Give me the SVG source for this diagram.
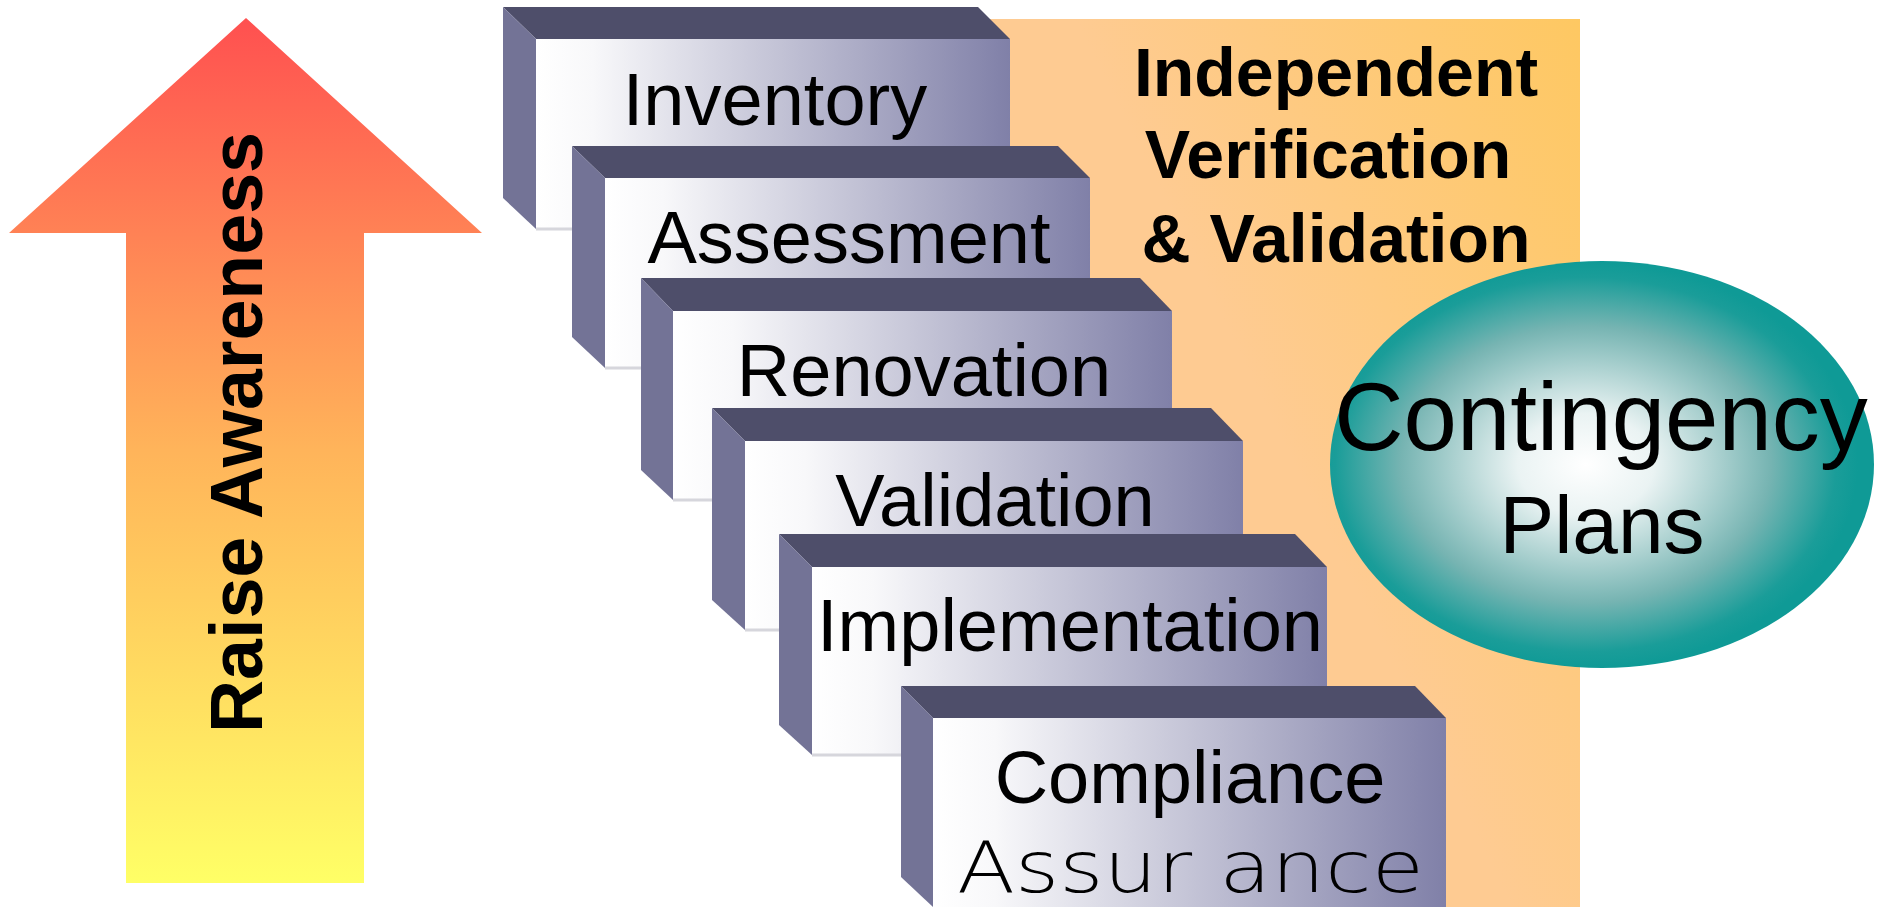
<svg xmlns="http://www.w3.org/2000/svg" width="1881" height="907" viewBox="0 0 1881 907">
  <defs>
    <linearGradient id="arrowGrad" gradientUnits="userSpaceOnUse" x1="0" y1="18" x2="0" y2="883">
      <stop offset="0" stop-color="#ff5050"/>
      <stop offset="0.5" stop-color="#ffb45a"/>
      <stop offset="1" stop-color="#ffff66"/>
    </linearGradient>
    <linearGradient id="orangeGrad" x1="1" y1="0" x2="0.45" y2="0.4">
      <stop offset="0" stop-color="#fec862"/>
      <stop offset="1" stop-color="#fecb92"/>
    </linearGradient>
    <linearGradient id="frontGrad" x1="0" y1="0" x2="1" y2="0">
      <stop offset="0" stop-color="#ffffff"/>
      <stop offset="0.12" stop-color="#f8f8fa"/>
      <stop offset="1" stop-color="#8080a8"/>
    </linearGradient>
    <radialGradient id="ovalGrad" cx="0.47" cy="0.5" r="0.5">
      <stop offset="0" stop-color="#ffffff"/>
      <stop offset="0.25" stop-color="#eaf3f3"/>
      <stop offset="0.68" stop-color="#76b4b2"/>
      <stop offset="0.92" stop-color="#1a9d99"/>
      <stop offset="1" stop-color="#0f9a96"/>
    </radialGradient>
    <style>
      .top { fill: #4e4e6a; }
      .side { fill: #737396; }
      .front { fill: url(#frontGrad); }
      .edge { stroke: #d6d6dc; stroke-width: 3; fill: none; }
      .lbl { font-family: "Liberation Sans", Arial, sans-serif; font-size: 74px; fill: #000; text-anchor: middle; }
      .bold { font-family: "Liberation Sans", Arial, sans-serif; font-weight: bold; fill: #000; text-anchor: middle; }
      .thin { font-family: "DejaVu Sans", sans-serif; font-weight: 200; font-size: 72px; fill: #000; }
    </style>
  </defs>

  <rect id="background" x="0" y="0" width="1881" height="907" fill="#ffffff"/>

  <g id="raise-awareness">
    <polygon points="246,18 482,233 364,233 364,883 126,883 126,233 9,233" fill="url(#arrowGrad)"/>
    <text class="bold" font-size="75" textLength="601" lengthAdjust="spacingAndGlyphs" transform="translate(262,432.5) rotate(-90)">Raise Awareness</text>
  </g>

  <g id="ivv">
    <rect x="980" y="19" width="600" height="888" fill="url(#orangeGrad)"/>
    <text class="bold" font-size="68" x="1336" y="96">Independent</text>
    <text class="bold" font-size="68" x="1328" y="178">Verification</text>
    <text class="bold" font-size="68" x="1336" y="262">&amp; Validation</text>
  </g>

  <g id="inventory">
    <polygon class="top" points="503,7 978,7 1010,39 536,39"/>
    <polygon class="side" points="503,7 536,39 536,229 503,198"/>
    <rect class="front" x="536" y="39" width="474" height="190"/>
    <line class="edge" x1="536" y1="229" x2="1010" y2="229"/>
    <text class="lbl" x="775" y="125">Inventory</text>
  </g>

  <g id="assessment">
    <polygon class="top" points="572,146 1058,146 1090,178 605,178"/>
    <polygon class="side" points="572,146 605,178 605,368 572,337"/>
    <rect class="front" x="605" y="178" width="485" height="190"/>
    <line class="edge" x1="605" y1="368" x2="1090" y2="368"/>
    <text class="lbl" x="849" y="263">Assessment</text>
  </g>

  <g id="renovation">
    <polygon class="top" points="641,278 1140,278 1172,311 673,311"/>
    <polygon class="side" points="641,278 673,311 673,500 641,470"/>
    <rect class="front" x="673" y="311" width="499" height="189"/>
    <line class="edge" x1="673" y1="500" x2="1172" y2="500"/>
    <text class="lbl" x="924" y="396">Renovation</text>
  </g>

  <g id="validation">
    <polygon class="top" points="712,408 1211,408 1243,441 745,441"/>
    <polygon class="side" points="712,408 745,441 745,630 712,600"/>
    <rect class="front" x="745" y="441" width="498" height="189"/>
    <line class="edge" x1="745" y1="630" x2="1243" y2="630"/>
    <text class="lbl" x="995" y="526">Validation</text>
  </g>

  <g id="implementation">
    <polygon class="top" points="779,534 1295,534 1327,567 812,567"/>
    <polygon class="side" points="779,534 812,567 812,755 779,725"/>
    <rect class="front" x="812" y="567" width="515" height="188"/>
    <line class="edge" x1="812" y1="755" x2="1327" y2="755"/>
    <text class="lbl" x="1070" y="651">Implementation</text>
  </g>

  <g id="compliance-assurance">
    <polygon class="top" points="901,686 1415,686 1446,718 933,718"/>
    <polygon class="side" points="901,686 933,718 933,907 901,877"/>
    <rect class="front" x="933" y="718" width="513" height="189"/>
    <text class="lbl" x="1190" y="803">Compliance</text>
    <text class="thin" x="957" y="892" textLength="467" lengthAdjust="spacingAndGlyphs">Assur ance</text>
  </g>

  <g id="contingency-plans">
    <ellipse cx="1602" cy="464.5" rx="272" ry="203.5" fill="url(#ovalGrad)"/>
    <text class="lbl" x="1601" y="450" style="font-size:96px">Contingency</text>
    <text class="lbl" x="1602" y="553" style="font-size:82px">Plans</text>
  </g>

  <g id="connectors"/>
</svg>
